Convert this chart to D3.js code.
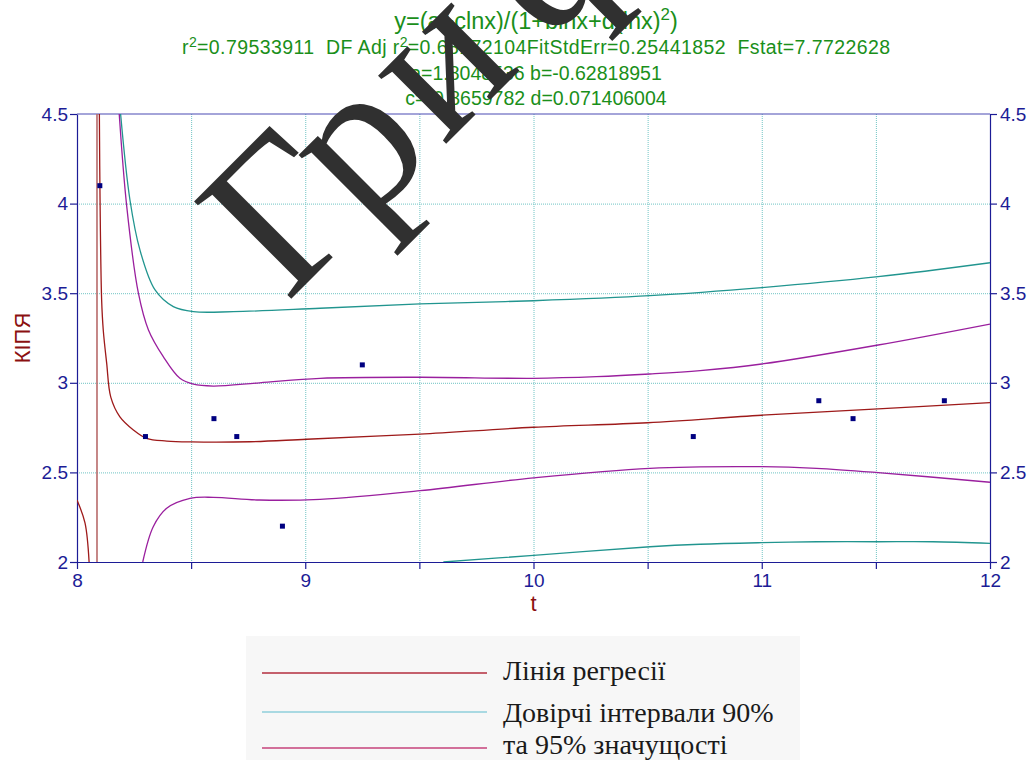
<!DOCTYPE html>
<html><head><meta charset="utf-8">
<script src="https://cdn.jsdelivr.net/npm/d3@7"></script>
<style>body{margin:0;background:#fff}svg{display:block}text{white-space:pre}</style>
</head><body><svg id="c" width="1036" height="760"></svg>
<script>
// ---- data ----
const xTicks = [8, 9, 10, 11, 12];
const yTicks = [2, 2.5, 3, 3.5, 4, 4.5];
const pointsT = [8.1, 8.3, 8.6, 8.7, 8.9, 9.25, 10.7, 11.25, 11.4, 11.8];
const pointsK = [4.1, 2.7, 2.8, 2.7, 2.2, 3.1, 2.7, 2.9, 2.8, 2.9];

// regression line: left branch, pole, right branch
const regLeftT = [8.0, 8.035, 8.053];
const regLeftK = [2.346, 2.218, 2.0];
const regPoleT = 8.0876;
const regRightT = [8.098, 8.101, 8.108, 8.115, 8.13, 8.148, 8.188, 8.247, 8.305, 8.393, 8.5, 8.758, 9.006, 9.503, 10.0, 10.5, 11.0, 11.51, 12.0];
const regRightK = [4.5, 4.02, 3.46, 3.295, 3.11, 2.92, 2.81, 2.737, 2.69, 2.675, 2.67, 2.671, 2.685, 2.714, 2.752, 2.777, 2.819, 2.854, 2.889];

// 90% confidence band (teal)
const ci90UpT = [8.191, 8.232, 8.276, 8.342, 8.422, 8.51, 8.685, 9.065, 9.503, 10.0, 10.51, 11.0, 11.51, 12.0];
const ci90UpK = [4.5, 4.02, 3.74, 3.518, 3.425, 3.397, 3.397, 3.416, 3.44, 3.458, 3.486, 3.531, 3.592, 3.67];
const ci90LoT = [9.605, 10.0, 10.51, 10.73, 11.0, 11.24, 11.51, 11.75, 12.0];
const ci90LoK = [2.0, 2.037, 2.085, 2.099, 2.108, 2.113, 2.113, 2.113, 2.104];

// 95% band (magenta)
const ci95UpT = [8.185, 8.218, 8.269, 8.313, 8.378, 8.451, 8.51, 8.597, 8.8, 9.065, 9.503, 10.0, 10.276, 10.51, 10.73, 11.0, 11.51, 12.0];
const ci95UpK = [4.5, 3.983, 3.5, 3.295, 3.146, 3.025, 2.992, 2.982, 3.0, 3.025, 3.031, 3.025, 3.034, 3.049, 3.068, 3.105, 3.211, 3.328];
const ci95LoT = [8.288, 8.334, 8.393, 8.495, 8.597, 8.8, 9.065, 9.503, 10.0, 10.51, 11.0, 11.24, 11.51, 12.0];
const ci95LoK = [2.0, 2.197, 2.3, 2.355, 2.361, 2.346, 2.35, 2.398, 2.47, 2.523, 2.532, 2.523, 2.499, 2.445];

const legendLabels = ["Лінія регресії", "Довірчі інтервали 90%", "та 95% значущості"];

// ---- drawing ----
const svg = d3.select("#c");
svg.append("rect").attr("width",1036).attr("height",760).attr("fill","#fff");
const L = 77, R = 990, T = 114, B = 562;
const x = d3.scaleLinear().domain([8, 12]).range([L, R]);
const y = d3.scaleLinear().domain([2, 4.5]).range([B, T]);

const navy = "#1c1c96", green = "#1a8f1a", dred = "#8b1010";
const cRed = "#9e1a1a", cTeal = "#21958f", cMag = "#9a1f9e";

// grid
const grid = svg.append("g").attr("stroke","#70c4c4").attr("stroke-width",1).attr("stroke-dasharray","1,1");
d3.range(8.5, 12, 0.5).forEach(v => grid.append("line").attr("x1",x(v)+0.5).attr("x2",x(v)+0.5).attr("y1",T).attr("y2",B));
d3.range(2.5, 4.5, 0.5).forEach(v => grid.append("line").attr("x1",L).attr("x2",R).attr("y1",y(v)+0.5).attr("y2",y(v)+0.5));

// axes
const axFont = "'Liberation Sans', Arial, sans-serif";
const bottom = svg.append("g").attr("transform",`translate(0,${B})`)
  .call(d3.axisBottom(x).tickValues(d3.range(8, 12.01, 0.5)).tickSize(7).tickSizeOuter(0)
    .tickFormat(d => Number.isInteger(d) && xTicks.includes(d) ? d : ""));
const left = svg.append("g").attr("transform",`translate(${L},0)`)
  .call(d3.axisLeft(y).tickValues(yTicks).tickSize(7).tickSizeOuter(0).tickFormat(d3.format("")));
const right = svg.append("g").attr("transform",`translate(${R},0)`)
  .call(d3.axisRight(y).tickValues(yTicks).tickSize(7).tickSizeOuter(0).tickFormat(d3.format("")));
[bottom, left, right].forEach(g => {
  g.selectAll("path,line").attr("stroke", navy).attr("stroke-width",1.2);
  g.selectAll("text").attr("fill", navy).attr("font-family", axFont).attr("font-size", 19);
});
bottom.selectAll("text").attr("dy","0.78em");
left.selectAll("text").attr("dx","1px");
svg.append("line").attr("x1",L).attr("x2",R).attr("y1",T).attr("y2",T).attr("stroke","#4a4ab4").attr("stroke-width",1.2);

// clip
svg.append("clipPath").attr("id","pc").append("rect").attr("x",L).attr("y",T).attr("width",R-L).attr("height",B-T);
const plot = svg.append("g").attr("clip-path","url(#pc)");
const line = d3.line().x(d => x(d[0])).y(d => y(d[1])).curve(d3.curveCatmullRom.alpha(0.5));
const zipd = (a, b) => a.map((v, i) => [v, b[i]]);
function path(t, k, col, w) {
  plot.append("path").datum(zipd(t, k)).attr("d", line).attr("fill","none").attr("stroke", col).attr("stroke-width", w || 1.3);
}
path(ci90UpT, ci90UpK, cTeal);
path(ci90LoT, ci90LoK, cTeal);
path(ci95UpT, ci95UpK, cMag);
path(ci95LoT, ci95LoK, cMag);
path(regLeftT, regLeftK, cRed);
path(regRightT, regRightK, cRed);
plot.append("line").attr("x1",x(regPoleT)).attr("x2",x(regPoleT)).attr("y1",T).attr("y2",B)
  .attr("stroke","#b86a6a").attr("stroke-width",1.6);

// points
svg.append("g").selectAll("rect").data(zipd(pointsT, pointsK)).join("rect")
  .attr("x", d => x(d[0]) - 2.5).attr("y", d => y(d[1]) - 2.5).attr("width",5).attr("height",5).attr("fill","#000080");

// axis titles
svg.append("text").attr("x", x(10)).attr("y", 611).attr("text-anchor","middle")
  .attr("font-family", axFont).attr("font-size", 22).attr("fill", dred).text("t");
svg.append("text").attr("transform", `translate(30,${(T+B)/2}) rotate(-90)`).attr("text-anchor","middle")
  .attr("font-family", axFont).attr("font-size", 22).attr("fill", dred).text("КІПЯ");

// title
function titleLine(yy, size, parts, len) {
  const t = svg.append("text").attr("x", 536).attr("y", yy).attr("text-anchor","middle")
    .attr("font-family", axFont).attr("font-size", size).attr("fill", green);
  if (len) t.attr("textLength", len).attr("lengthAdjust", "spacing");
  let raised = false;
  parts.forEach(p => {
    if (typeof p === "string") {
      const s = t.append("tspan").text(p);
      if (raised) { s.attr("dy", size * 0.38); raised = false; }
    } else {
      t.append("tspan").attr("dy", -size * 0.38).attr("font-size", size * 0.72).text(p.sup);
      raised = true;
    }
  });
}
titleLine(29, 23.5, ["y=(a+clnx)/(1+blnx+d(lnx)", {sup:"2"}, ")"]);
titleLine(54, 19.5, ["r", {sup:"2"}, "=0.79533911  DF Adj r", {sup:"2"}, "=0.68172104FitStdErr=0.25441852  Fstat=7.7722628"], 708);
titleLine(80, 19.5, ["a=1.8048536 b=-0.62818951"]);
titleLine(105, 19.5, ["c=-0.8659782 d=0.071406004"]);

// legend
const lg = svg.append("g");
lg.append("rect").attr("x",246).attr("y",636).attr("width",554).attr("height",124).attr("fill","#f7f7f7");
const legCols = ["#c4606c", "#a9d9e2", "#d2709a"];
const legY = [673, 712, 748];
legCols.forEach((c, i) => lg.append("line").attr("x1",262).attr("x2",487).attr("y1",legY[i]).attr("y2",legY[i]).attr("stroke",c).attr("stroke-width",2.2));
const legTextY = [680, 722, 754];
legendLabels.forEach((s, i) => lg.append("text").attr("x",503).attr("y",legTextY[i])
  .attr("font-family","'Liberation Serif', 'Times New Roman', serif").attr("font-size",28).attr("fill","#1a1a1a").text(s));

// watermark stamp
const wm = svg.append("text").attr("transform","translate(287,303) rotate(-45)")
  .attr("font-family","'Liberation Serif', 'Times New Roman', serif").attr("font-size",210).attr("fill","#303030");
wm.append("tspan").text("Гр");
wm.append("tspan").attr("dx", 8).text("и");
wm.append("tspan").attr("dx", 34).text("ф");
</script></body></html>
